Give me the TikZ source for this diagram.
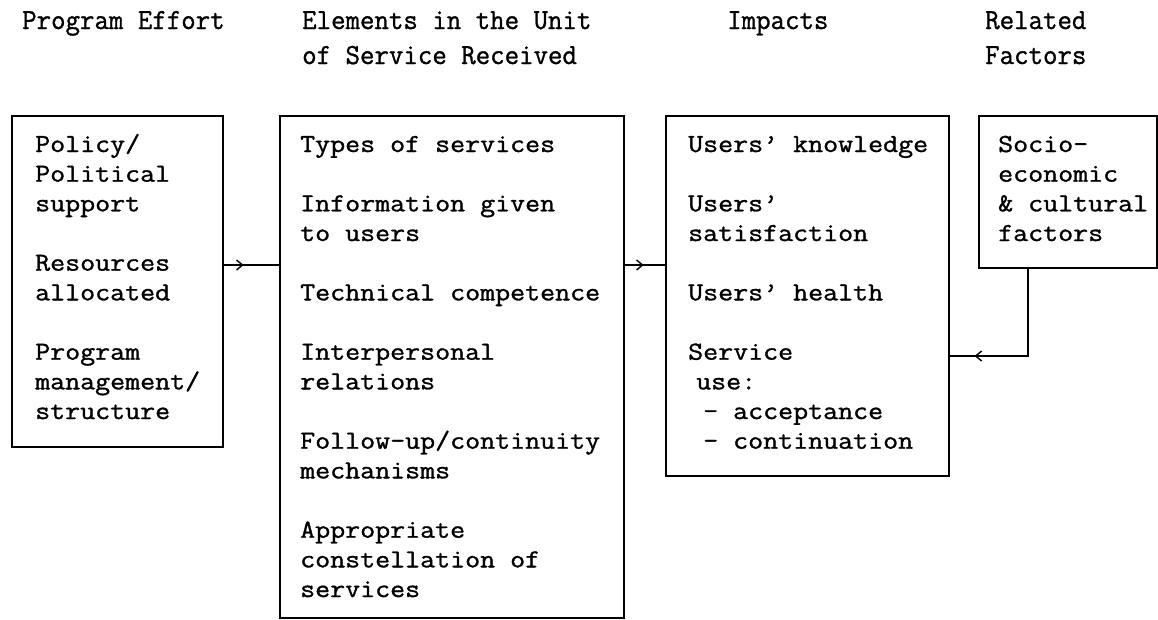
\documentclass[tikz,border=0pt]{standalone}
\usepackage{fontspec}
\newfontfamily\typewriter{Latin Modern Mono}[FakeBold=1.1]
\usetikzlibrary{arrows.meta,decorations.markings}

% typewriter face, widened to the character pitch of the typed sheet
\newcommand\tw[1]{\scalebox{1.12}[1]{\typewriter\bfseries #1}}
\newcommand\twhead[1]{\scalebox{1.08}[1.12]{\typewriter\bfseries #1}}
% one typed line of text, placed on the typewriter grid
\newcommand\gridline[4]{\node[ln] (#1) at (#2,{152+#3*29.67}) {\tw{#4}};}

\begin{document}
\begin{tikzpicture}[x=1pt,y=-1pt,
  boxframe/.style={draw, line width=1.7pt, inner sep=0pt, anchor=north west},
  ln/.style={anchor=base west, inner sep=0pt, font=\fontsize{26}{30}\selectfont},
  head/.style={anchor=base west, inner sep=0pt, font=\fontsize{26}{30}\selectfont},
  link/.style={line width=1.6pt, postaction={decorate}},
  midtip/.style={decoration={markings,
      mark=at position #1 with {\arrow{Straight Barb[length=6pt,width=10pt,line width=1.4pt]}}}}
]
\useasboundingbox (0,0) rectangle (1158,619);

% column headings
\node[head] (h1)  at (22,29)  {\twhead{Program Effort}};
\node[head] (h2a) at (302,29) {\twhead{Elements in the Unit}};
\node[head] (h2b) at (302,64) {\twhead{of Service Received}};
\node[head] (h3)  at (727,29) {\twhead{Impacts}};
\node[head] (h4a) at (985,29) {\twhead{Related}};
\node[head] (h4b) at (985,64) {\twhead{Factors}};

% the four boxes
\node[boxframe, minimum width=211pt, minimum height=331pt] (b1) at (11,115) {};
\node[boxframe, minimum width=344pt, minimum height=502pt] (b2) at (279,115) {};
\node[boxframe, minimum width=283pt, minimum height=360pt] (b3) at (665,115) {};
\node[boxframe, minimum width=178pt, minimum height=152pt] (b4) at (978,115) {};

% program effort
\gridline{p1}{35}{0}{Policy/}
\gridline{p2}{35}{1}{Political}
\gridline{p3}{35}{2}{support}
\gridline{p4}{35}{4}{Resources}
\gridline{p5}{35}{5}{allocated}
\gridline{p6}{35}{7}{Program}
\gridline{p7}{35}{8}{management/}
\gridline{p8}{35}{9}{structure}

% elements of the unit of service
\gridline{e1}{300}{0}{Types of services}
\gridline{e2}{300}{2}{Information given}
\gridline{e3}{300}{3}{to users}
\gridline{e4}{300}{5}{Technical competence}
\gridline{e5}{300}{7}{Interpersonal}
\gridline{e6}{300}{8}{relations}
\gridline{e7}{300}{10}{Follow-up/continuity}
\gridline{e8}{300}{11}{mechanisms}
\gridline{e9}{300}{13}{Appropriate}
\gridline{e10}{300}{14}{constellation of}
\gridline{e11}{300}{15}{services}

% impacts
\gridline{i1}{688}{0}{Users’ knowledge}
\gridline{i2}{688}{2}{Users’}
\gridline{i3}{688}{3}{satisfaction}
\gridline{i4}{688}{5}{Users’ health}
\gridline{i5}{688}{7}{Service}
\gridline{i6}{696}{8}{use:}
\gridline{i7}{703}{9}{- acceptance}
\gridline{i8}{703}{10}{- continuation}

% related factors
\gridline{f1}{998}{0}{Socio-}
\gridline{f2}{998}{1}{economic}
\gridline{f3}{998}{2}{\& cultural}
\gridline{f4}{998}{3}{factors}

% connectors
\coordinate (row) at (0,265);
\coordinate (low) at (0,356);
\coordinate (drop) at (1028,0);
\draw[link, midtip=0.36] (b1.east |- row) -- (b2.west |- row);
\draw[link, midtip=0.47] (b2.east |- row) -- (b3.west |- row);
\draw[link, midtip=0.85] (b4.south -| drop) |- (b3.east |- low);
\end{tikzpicture}
\end{document}
